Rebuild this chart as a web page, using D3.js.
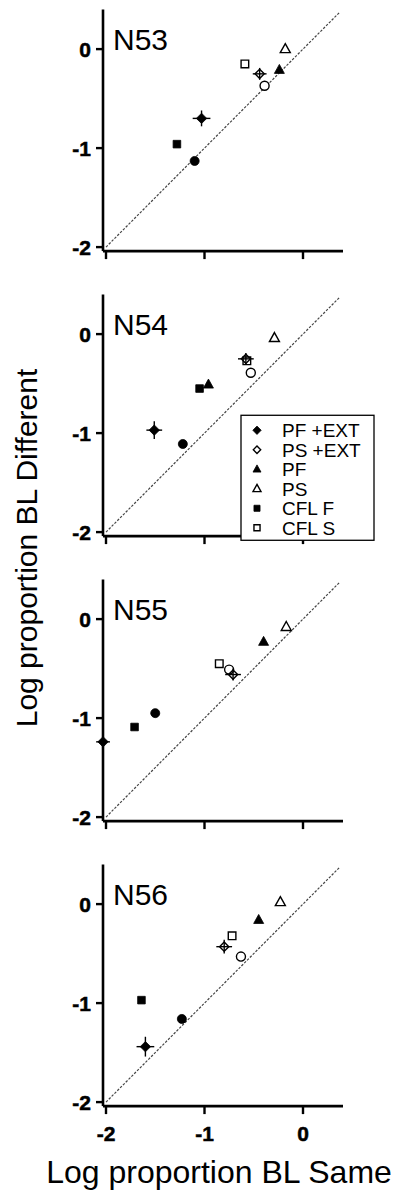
<!DOCTYPE html>
<html>
<head>
<meta charset="utf-8">
<script src="https://cdn.jsdelivr.net/npm/d3@7"></script>
<style>
  body { margin: 0; background: #fff; }
  svg { display: block; font-family: Arial, "Liberation Sans", sans-serif; }
</style>
</head>
<body>
<div id="chart"></div>
<script>
// Panel names (one per subject)
const panelNames = ["N53", "N54", "N55", "N56"];

// Axis ticks (log units)
const xTicks = [-2, -1, 0];
const yTicks = [-2, -1, 0];

// Points per panel: [log BL same, log BL different]
const pfExtMean = [[-1.03, -0.70], [-1.51, -0.97], [-2.03, -1.24], [-1.60, -1.44]];
const pfExtErrX = [0.09, 0.08, 0.07, 0.09];
const pfExtErrY = [0.08, 0.09, 0.03, 0.10];

const psExtMean = [[-0.44, -0.25], [-0.58, -0.25], [-0.71, -0.56], [-0.80, -0.43]];
const psExtErrX = [0.07, 0.08, 0.08, 0.08];
const psExtErrY = [0.06, 0.06, 0.06, 0.07];

const pfExt = [[-1.10, -1.13], [-1.22, -1.11], [-1.50, -0.95], [-1.23, -1.16]];
const psExt = [[-0.39, -0.37], [-0.53, -0.39], [-0.75, -0.51], [-0.63, -0.53]];
const pf = [[-0.24, -0.21], [-0.96, -0.51], [-0.40, -0.23], [-0.45, -0.16]];
const ps = [[-0.18, 0.00], [-0.29, -0.04], [-0.17, -0.08], [-0.23, 0.02]];
const cflF = [[-1.28, -0.96], [-1.05, -0.55], [-1.71, -1.09], [-1.64, -0.97]];
const cflS = [[-0.59, -0.15], [-0.57, -0.27], [-0.85, -0.45], [-0.72, -0.32]];

// Legend entries
const legendLabels = ["PF +EXT", "PS +EXT", "PF", "PS", "CFL F", "CFL S"];
const legendShapes = ["diamond", "diamondOpen", "triangle", "triangleOpen", "square", "squareOpen"];

const W = 401, H = 1190;
const panelTop = 9.5, panelStep = 285;

const svg = d3.select("#chart").append("svg")
    .attr("width", W)
    .attr("height", H);

const x = d3.scaleLinear().domain([-2, 0.4]).range([106, 342.4]);
const y = d3.scaleLinear().domain([-2, 0.4]).range([237.6, 0]);

// Marker path for a shape centred at 0,0
function shapePath(shape, s) {
    const k = s || 1;
    if (shape === "diamond") {
        const r = 5.2 * k;
        return `M0,${-r}L${r},0L0,${r}L${-r},0Z`;
    }
    if (shape === "diamondOpen") {
        const r = 4.6 * k;
        return `M0,${-r}L${r},0L0,${r}L${-r},0Z`;
    }
    if (shape.startsWith("circle")) {
        return d3.symbol(d3.symbolCircle, 64 * k * k)();
    }
    if (shape.startsWith("triangle")) {
        const a = 5 * k;
        return `M0,${-a * 1.1}L${a},${a * 0.7}L${-a},${a * 0.7}Z`;
    }
    const h = 3.8 * k;
    return `M${-h},${-h}H${h}V${h}H${-h}Z`;
}

function drawMarker(g, shape, px, py, s) {
    const open = shape.endsWith("Open");
    g.append("path")
        .attr("transform", `translate(${px},${py})`)
        .attr("d", shapePath(shape, s))
        .attr("fill", open ? (shape === "diamondOpen" ? "none" : "#fff") : "#000")
        .attr("stroke", "#000")
        .attr("stroke-width", open ? 1.4 : 0.8);
}

panelNames.forEach((name, i) => {
    const g = svg.append("g")
        .attr("transform", `translate(0,${panelTop + i * panelStep})`);
    const axisY = y(-2) + 4;

    // Identity line
    g.append("line")
        .attr("x1", x(-2)).attr("y1", y(-2))
        .attr("x2", x(0.37)).attr("y2", y(0.37))
        .attr("stroke", "#444")
        .attr("stroke-width", 1.2)
        .attr("stroke-dasharray", "2.5,1.5");

    // Axes
    g.append("line")
        .attr("x1", 103).attr("x2", 103)
        .attr("y1", 0).attr("y2", axisY)
        .attr("stroke", "#000").attr("stroke-width", 2.6);
    g.append("line")
        .attr("x1", 103).attr("x2", 343)
        .attr("y1", axisY).attr("y2", axisY)
        .attr("stroke", "#000").attr("stroke-width", 2.6);

    yTicks.forEach(t => {
        g.append("line")
            .attr("x1", 96).attr("x2", 103)
            .attr("y1", y(t)).attr("y2", y(t))
            .attr("stroke", "#000").attr("stroke-width", 2.4);
        g.append("text")
            .attr("x", 91)
            .attr("y", y(t))
            .attr("dy", "0.36em")
            .attr("text-anchor", "end")
            .attr("stroke", "#000")
            .attr("stroke-width", 0.5)
            .style("font-size", "21px")
            .style("font-weight", "bold")
            .text(t);
    });

    xTicks.forEach(t => {
        g.append("line")
            .attr("x1", x(t)).attr("x2", x(t))
            .attr("y1", axisY).attr("y2", axisY + 8)
            .attr("stroke", "#000").attr("stroke-width", 2.4);
        if (i === panelNames.length - 1) {
            g.append("text")
                .attr("x", x(t))
                .attr("y", axisY + 35)
                .attr("text-anchor", "middle")
                .attr("stroke", "#000")
                .attr("stroke-width", 0.5)
                .style("font-size", "21px")
                .style("font-weight", "bold")
                .text(t);
        }
    });

    // Panel label
    g.append("text")
        .attr("x", 113)
        .attr("y", y(0) + 1)
        .style("font-size", "30px")
        .text(name);

    const series = [
        [cflS, "squareOpen"], [cflF, "square"],
        [ps, "triangleOpen"], [pf, "triangle"],
        [psExt, "circleOpen"], [pfExt, "circle"],
        [psExtMean, "diamondOpen"], [pfExtMean, "diamond"]
    ];
    series.forEach(([pts, shape]) => {
        drawMarker(g, shape, x(pts[i][0]), y(pts[i][1]));
    });

    // Error bars for the +EXT means, drawn through the symbols
    [[pfExtMean, pfExtErrX, pfExtErrY], [psExtMean, psExtErrX, psExtErrY]].forEach(([pts, ex, ey]) => {
        const [vx, vy] = pts[i];
        g.append("line")
            .attr("x1", x(vx - ex[i])).attr("x2", x(vx + ex[i]))
            .attr("y1", y(vy)).attr("y2", y(vy))
            .attr("stroke", "#000").attr("stroke-width", 1.4);
        g.append("line")
            .attr("x1", x(vx)).attr("x2", x(vx))
            .attr("y1", y(vy - ey[i])).attr("y2", y(vy + ey[i]))
            .attr("stroke", "#000").attr("stroke-width", 1.4);
    });

    // Legend sits in the second panel
    if (i === 1) {
        const lx = 241, ly = y(-0.82);
        const lg = svg.append("g")
            .attr("transform", `translate(0,${panelTop + i * panelStep})`);
        lg.append("rect")
            .attr("x", lx).attr("y", ly)
            .attr("width", 133).attr("height", 125)
            .attr("fill", "#fff")
            .attr("stroke", "#000")
            .attr("stroke-width", 1.3);
        legendLabels.forEach((lab, j) => {
            const cy = ly + 15 + j * 19.5;
            drawMarker(lg, legendShapes[j], lx + 16, cy, 0.8);
            lg.append("text")
                .attr("x", lx + 41)
                .attr("y", cy)
                .attr("dy", "0.36em")
                .style("font-size", "19px")
                .text(lab);
        });
    }
});

// Axis titles
svg.append("text")
    .attr("transform", "translate(37,548) rotate(-90)")
    .attr("text-anchor", "middle")
    .style("font-size", "30px")
    .text("Log proportion BL Different");

svg.append("text")
    .attr("x", 219)
    .attr("y", 1183)
    .attr("text-anchor", "middle")
    .style("font-size", "32px")
    .text("Log proportion BL Same");
</script>
</body>
</html>
